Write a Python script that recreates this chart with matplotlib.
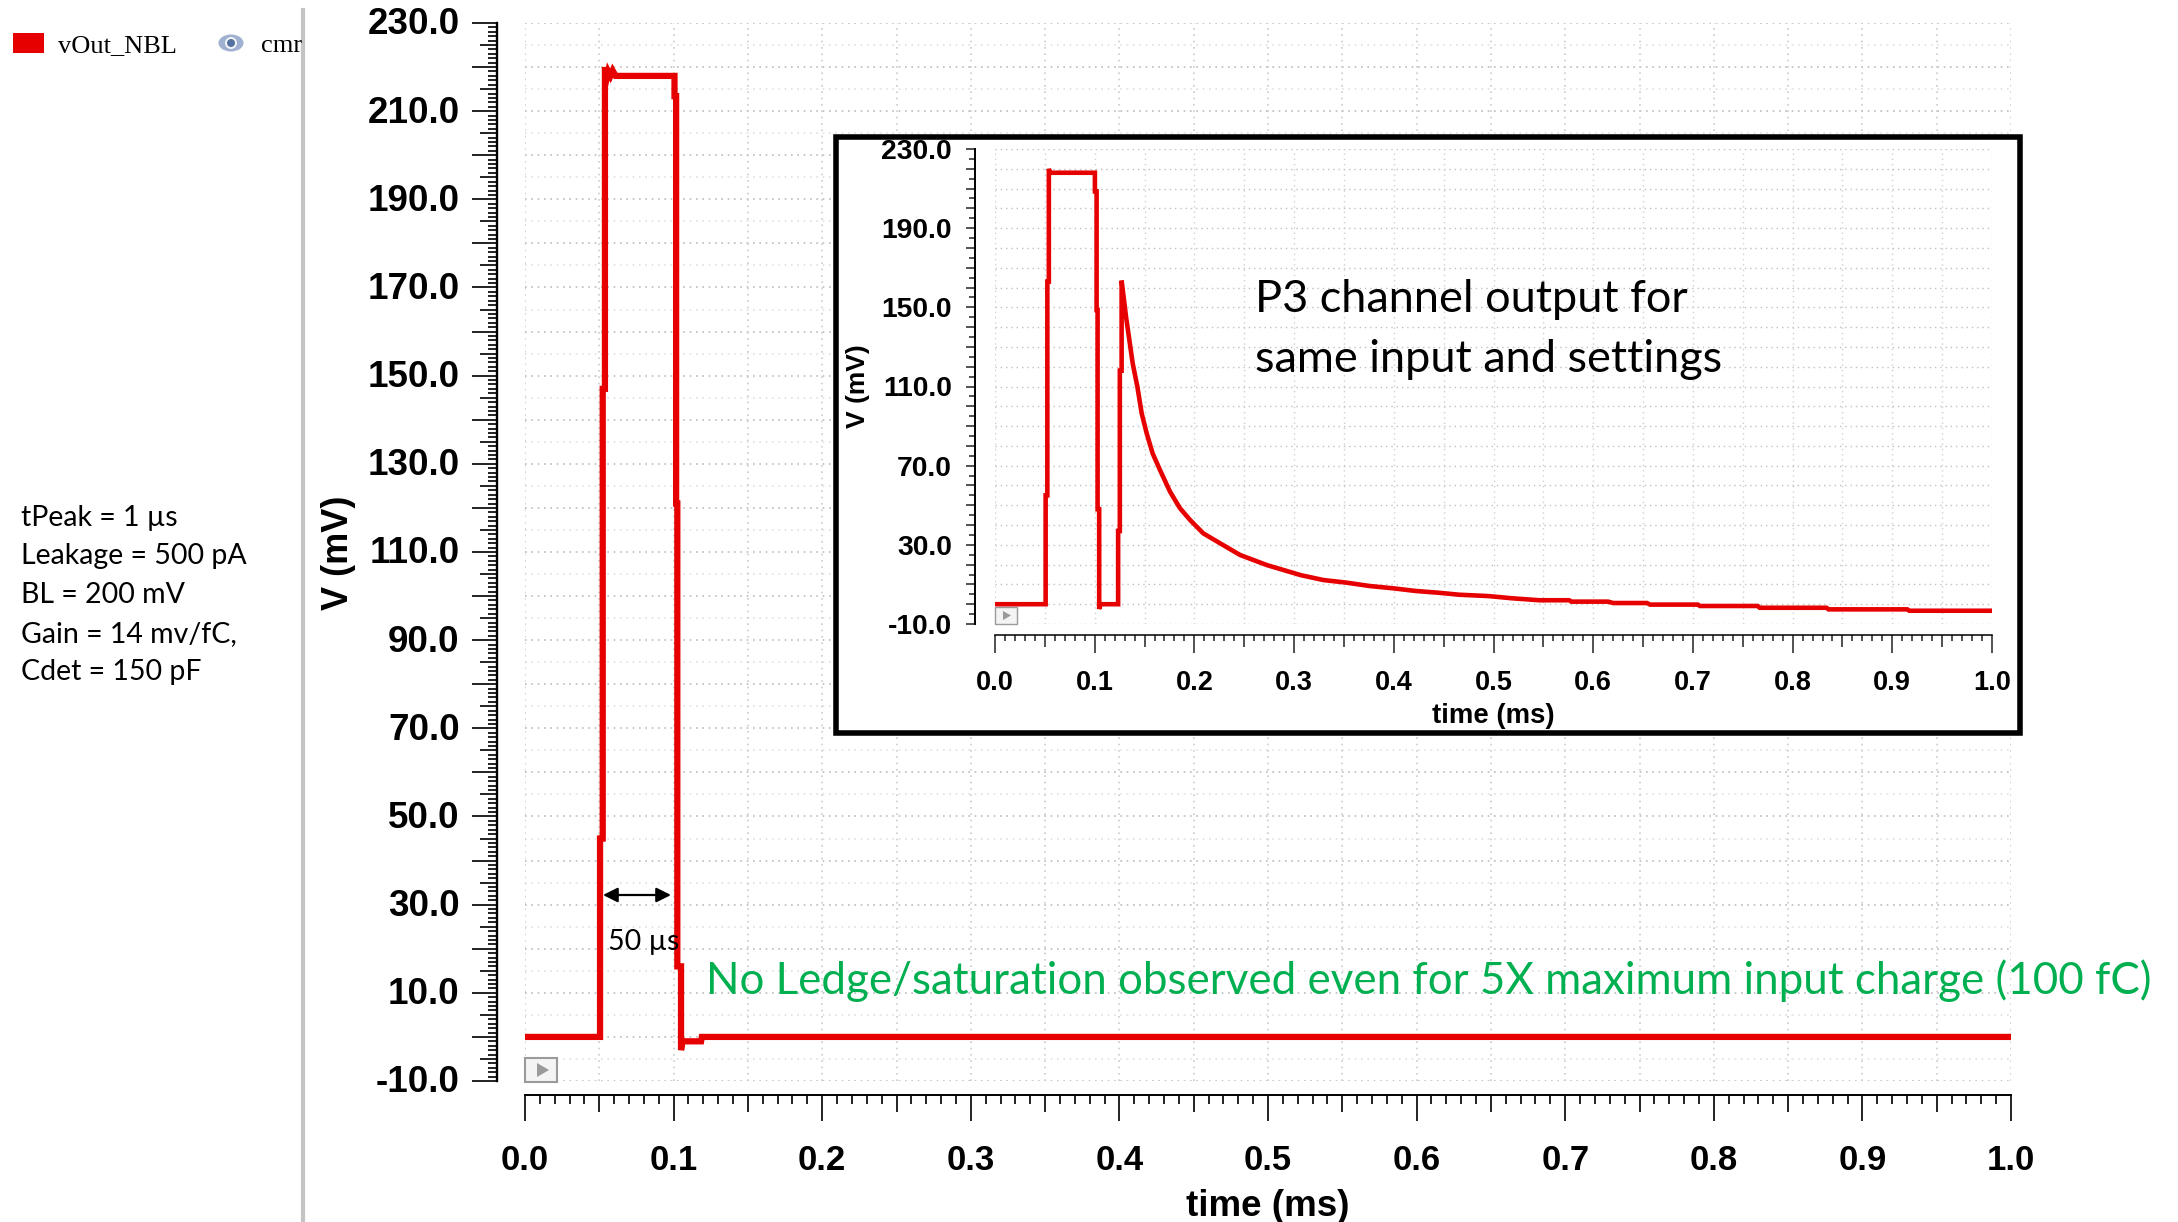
import numpy as np
import matplotlib
matplotlib.use("Agg")
import matplotlib.pyplot as plt
from matplotlib.patches import Rectangle, Ellipse, Circle, Polygon
from matplotlib.transforms import ScaledTranslation

W, H = 2178, 1222

# main trace (vOut_NBL)
main_t = [0.0, 0.0505, 0.0505, 0.0523, 0.0523, 0.0538, 0.0538, 0.0550, 0.0560, 0.0575, 0.0590, 0.0610,
          0.1006, 0.1006, 0.1017, 0.1017, 0.1025, 0.1025, 0.1050, 0.1050, 0.1060, 0.1185, 0.1190, 1.0]
main_v = [0.0, 0.0, 45.0, 45.0, 147.0, 147.0, 220.0, 217.5, 219.0, 218.0, 219.2, 218.0,
          218.0, 213.4, 213.4, 121.0, 121.0, 16.0, 16.0, -3.0, -1.0, -1.0, 0.0, 0.0]

# inset trace (P3 channel)
p3_t = [0.0, 0.0508, 0.0508, 0.0525, 0.0525, 0.0540, 0.0540, 0.0550, 0.0560, 0.1002, 0.1002, 0.1019, 0.1019,
        0.1029, 0.1029, 0.1045, 0.1045, 0.1060, 0.1235, 0.1235, 0.1252, 0.1252, 0.1270, 0.1270,
        0.1314, 0.1381, 0.1428, 0.1471, 0.1521, 0.1581, 0.1655, 0.1755, 0.1855, 0.1956, 0.2089,
        0.2257, 0.2457, 0.2725, 0.2959, 0.3065,
        0.3295, 0.3525, 0.3756, 0.40, 0.4217, 0.4447, 0.4654, 0.4953, 0.5184, 0.5461, 0.576, 0.578, 0.615,
        0.62, 0.654, 0.657, 0.705, 0.707, 0.765, 0.767, 0.834, 0.836, 0.915, 0.917, 1.0]
p3_v = [0.0, 0.0, 55.0, 55.0, 163.0, 163.0, 220.0, 218.0, 218.0, 218.0, 208.6, 208.6, 148.7,
        148.7, 48.0, 48.0, -2.4, 0.0, 0.0, 37.0, 37.0, 118.0, 118.0, 163.5,
        145.3, 121.7, 109.9, 96.5, 86.4, 76.2, 67.8, 56.9, 48.5, 42.6, 35.8,
        30.8, 24.9, 19.8, 16.3, 14.7,
        12.2, 10.9, 9.2, 8.0, 6.7, 5.8, 4.8, 4.1, 3.0, 2.0, 2.0, 1.3, 1.3,
        0.6, 0.6, -0.2, -0.2, -0.9, -0.9, -1.8, -1.8, -2.6, -2.6, -3.3, -3.3]

main_ylabels = [-10, 10, 30, 50, 70, 90, 110, 130, 150, 170, 190, 210, 230]
inset_ylabels = [-10, 30, 70, 110, 150, 190, 230]
x_labels = [0.0, 0.1, 0.2, 0.3, 0.4, 0.5, 0.6, 0.7, 0.8, 0.9, 1.0]
params = ["tPeak = 1 µs", "Leakage = 500 pA", "BL = 200 mV", "Gain = 14 mv/fC,", "Cdet = 150 pF"]

RED = "#e60000"
HELV = "Liberation Sans"
CAL = "Lato"


def px_axes(x0, y0, x1, y1, z):
    return fig.add_axes([x0 / W, 1 - y1 / H, (x1 - x0) / W, (y1 - y0) / H], zorder=z)


def set_sizes(ticks, locs, long_at, long_len, short_len):
    # matplotlib has one minor tick size, the mid ticks need to be longer
    for t, loc in zip(ticks, locs):
        is_mid = abs(loc / long_at - round(loc / long_at)) < 1e-6
        t.tick1line.set_markersize(long_len if is_mid else short_len)


def style_axes(ax, xfs, yfs, ylabels, out_x, out_y, xlen, ylen, tw, xpad, ypad):
    ax.set_xlim(0, 1)
    ax.set_ylim(-10, 230)
    ax.patch.set_alpha(0)
    for s in ["top", "right"]:
        ax.spines[s].set_visible(False)
    ax.spines["left"].set_position(("outward", out_x))
    ax.spines["bottom"].set_position(("outward", out_y))
    ax.spines["left"].set_linewidth(tw + 0.3)
    ax.spines["bottom"].set_linewidth(tw)
    ax.set_xticks(x_labels, ["%.1f" % v for v in x_labels], fontfamily=HELV, fontweight="bold", fontsize=xfs)
    ax.set_yticks(ylabels, ["%.1f" % v for v in ylabels], fontfamily=HELV, fontweight="bold", fontsize=yfs)
    xminor = [i / 100 for i in range(101) if i % 10 != 0]
    ax.set_xticks(xminor, minor=True)
    ax.tick_params(axis="x", which="major", length=xlen[0], width=tw, pad=xpad, color="#222222")
    ax.tick_params(axis="x", which="minor", length=xlen[2], width=tw, color="#222222")
    set_sizes(ax.xaxis.get_minor_ticks(), xminor, 0.05, xlen[1], xlen[2])
    ax.tick_params(axis="y", which="major", length=ylen[0], width=tw, pad=ypad, color="#222222")


fig = plt.figure(figsize=(W / 100, H / 100), dpi=100, facecolor="white")

# main chart
ax = px_axes(525, 23, 2011, 1081, 1)
style_axes(ax, 25, 26.5, main_ylabels, 20, 10, (18.7, 12.5, 6.5), (18, 12.5, 6.5), 1.4, 17, 9)
y_minor = [v for v in range(-10, 231) if v not in main_ylabels]
ax.set_yticks(y_minor, minor=True)
ax.tick_params(axis="y", which="minor", length=6.5, width=1.4, color="#222222")
for t, v in zip(ax.yaxis.get_minor_ticks(), y_minor):
    if v % 10 == 0:
        t.tick1line.set_markersize(18)
    elif v % 5 == 0:
        t.tick1line.set_markersize(12.5)
for lab in ax.get_yticklabels():
    lab.set_transform(lab.get_transform() + ScaledTranslation(0, 1.5 / 72, fig.dpi_scale_trans))
dots = (0, (1, 2.8))
ax.hlines(np.arange(-10, 231, 10), 0, 1, color="#bcbcbc", lw=1.2, linestyles=dots, zorder=1)
ax.hlines(np.arange(-5, 230, 10), 0, 1, color="#e0e0e0", lw=1.2, linestyles=dots, zorder=1)
ax.vlines(np.arange(0, 1.01, 0.05), -10, 230, color="#cccccc", lw=1.2, linestyles=dots, zorder=1)
ax.plot(main_t, main_v, color=RED, lw=4.5, solid_joinstyle="miter", solid_capstyle="butt", zorder=3, clip_on=False)

# overlay in pixel coordinates
ov = fig.add_axes([0, 0, 1, 1], zorder=2)
ov.set_xlim(0, W)
ov.set_ylim(H, 0)
ov.axis("off")

ov.text(1268, 1206, "time (ms)", family=HELV, weight="bold", fontsize=26.5, ha="center", va="center")
ov.text(338, 553, "V (mV)", family=HELV, weight="bold", fontsize=26, rotation=90, ha="center", va="center")

# legend strip
ov.add_patch(Rectangle((13, 33), 31, 20, color=RED, lw=0))
ov.text(58, 46, "vOut_NBL", family="Liberation Serif", fontsize=19, va="center")
ov.add_patch(Ellipse((231, 43), 25, 17, color="#9fb0d0", lw=0))
ov.add_patch(Circle((231, 43), 6, color="#f2f4f8", lw=0))
ov.add_patch(Circle((231, 43), 4, color="#55719f", lw=0))
ov.text(261, 46, "cmr", family="Liberation Serif", fontsize=19, va="center")
ov.add_patch(Rectangle((300, 0), 30, 60, color="white", lw=0))
ov.plot([302.5, 302.5], [10, H], color="#c4c4c4", lw=3)

line_y = [518, 556, 595, 634, 672]
for y, s in zip(line_y, params):
    ov.text(21, y, s, family=CAL, fontsize=20.5, va="center")

# play box of the viewer
ov.add_patch(Rectangle((525, 1058), 32, 24, fc="#f4f4f4", ec="#9a9a9a", lw=1.5))
ov.add_patch(Polygon([[537, 1063], [537, 1077], [549, 1070]], color="#9a9a9a", lw=0))

# 50 us marker
ov.annotate("", xy=(603, 895), xytext=(671, 895),
            arrowprops=dict(arrowstyle="<|-|>", color="black", lw=1.6, mutation_scale=22, shrinkA=0, shrinkB=0))
ov.text(608, 942, "50 µs", family=CAL, fontsize=20.5, va="center")
ov.text(706, 981, "No Ledge/saturation observed even for 5X maximum input charge (100 fC)",
        family=CAL, color="#00b050", fontsize=31.6, va="center")

# inset frame
ov.add_patch(Rectangle((836, 137), 1184, 596, fc="white", ec="black", lw=4))

ins = px_axes(995, 149, 1992, 624, 3)
style_axes(ins, 19.5, 20.3, inset_ylabels, 14.4, 7.9, (13, 8.6, 4.3), (6.5, 6.5, 4.3), 1.1, 12.5, 10)
iy_minor = [v for v in range(-10, 231, 5) if v not in inset_ylabels]
ins.set_yticks(iy_minor, minor=True)
ins.tick_params(axis="y", which="minor", length=4.3, width=1.1, color="#222222")
for t, v in zip(ins.yaxis.get_minor_ticks(), iy_minor):
    if v % 10 == 0:
        t.tick1line.set_markersize(6.5)
ins.hlines(np.arange(-10, 231, 10), 0, 1, color="#c0c0c0", lw=1.0, linestyles=dots, zorder=1)
ins.vlines(np.arange(0, 1.01, 0.05), -10, 230, color="#d0d0d0", lw=1.0, linestyles=dots, zorder=1)
ins.plot(p3_t, p3_v, color=RED, lw=3.3, solid_joinstyle="miter", solid_capstyle="butt", zorder=3, clip_on=False)
ins.add_patch(Rectangle((995, 607), 22, 17, fc="#f4f4f4", ec="#9a9a9a", lw=1, transform=ov.transData, clip_on=False))
ins.add_patch(Polygon([[1003, 611], [1003, 620], [1011, 615.5]], color="#9a9a9a", lw=0, transform=ov.transData, clip_on=False))
ins.text(1493, 716, "time (ms)", family=HELV, weight="bold", fontsize=19.8, ha="center", va="center", transform=ov.transData)
ins.text(858, 386, "V (mV)", family=HELV, weight="bold", fontsize=19, rotation=90, ha="center", va="center", transform=ov.transData)
ins.text(1255, 300, "P3 channel output for", family=CAL, fontsize=32.5, va="center", transform=ov.transData)
ins.text(1255, 359, "same input and settings", family=CAL, fontsize=32.5, va="center", transform=ov.transData)

fig.savefig("out.png", dpi=100)
